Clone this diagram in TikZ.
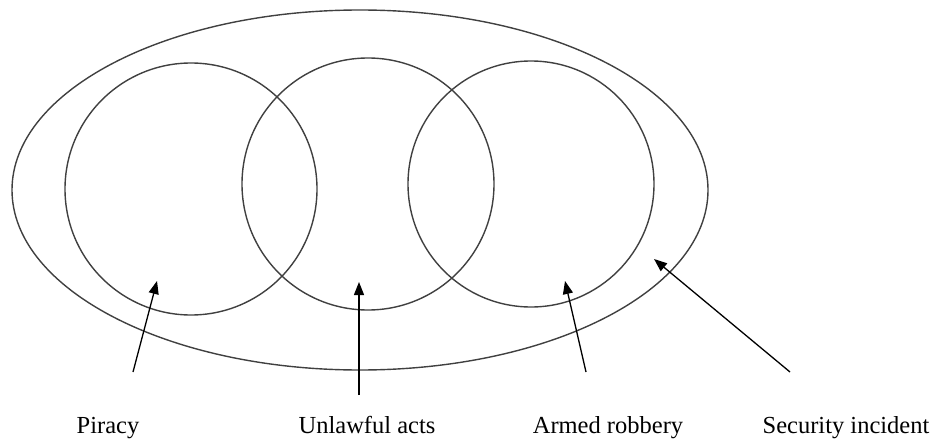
\documentclass[tikz,border=0pt]{standalone}
\usepackage{fontspec}
\setmainfont{Liberation Serif}
\usetikzlibrary{arrows.meta}
\begin{document}
\begin{tikzpicture}[x=1pt,y=-1pt,
  ring/.style={line width=1.4pt,draw=black!75},
  pointer/.style={line width=1.3pt,-{Triangle[length=13pt,width=10pt]}},
  tag/.style={font=\fontsize{24.5}{28}\selectfont,inner sep=0pt,anchor=base}]
\useasboundingbox (0,0) rectangle (936,441);
\coordinate[] (O) at (360,190);
\coordinate[] (P) at (191,189);
\coordinate[] (U) at (368,184);
\coordinate[] (R) at (531,184);
\draw [ring] (O) ellipse [x radius=348,y radius=180];
\draw [ring] (P) circle [radius=126];
\draw [ring] (U) circle [radius=126];
\draw [ring] (R) circle [radius=123];
% arrow tails and tips
\coordinate[] (Pt) at (133,372);
\coordinate[] (Ph) at (157,281);
\coordinate[] (Ut) at (359,395);
\coordinate[] (Uh) at (359,282);
\coordinate[] (Rt) at (586,372);
\coordinate[] (Rh) at (565,281);
\coordinate[] (St) at (790,372);
\coordinate[] (Sh) at (654,259);
\draw[pointer] (Pt) -- (Ph);
\draw[pointer] (Ut) -- (Uh);
\draw[pointer] (Rt) -- (Rh);
\draw[pointer] (St) -- (Sh);
\node[tag] (piracy) at (108,433) {Piracy};
\node[tag] (unlawful) at (367,433) {Unlawful acts};
\node[tag] (armed) at (608,433) {Armed robbery};
\node[tag] (security) at (846,433) {Security incident};
%\foreach \p in {P,U,R}
%	\fill (\p) circle (2pt);
\end{tikzpicture}
\end{document}
